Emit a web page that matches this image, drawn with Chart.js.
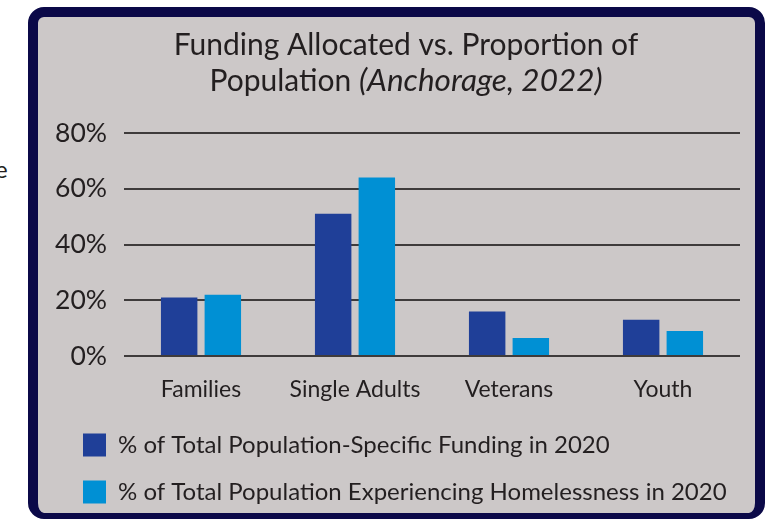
<!DOCTYPE html>
<html>
<head>
<meta charset="utf-8">
<script src="https://cdn.jsdelivr.net/npm/chart.js@4"></script>
<style>
  html, body { margin: 0; padding: 0; width: 772px; height: 519px; overflow: hidden; background: #ffffff; }
  #cut { position: absolute; left: -5px; top: 154px; font: 24px Lato, sans-serif; color: #231f20; }
  #panel {
    position: absolute; left: 28px; top: 7px; width: 737px; height: 512px;
    box-sizing: border-box; background: #ccc8c8;
    border: 10px solid #0b0948; border-bottom-width: 6px; border-radius: 16px;
  }
  #wrap { position: absolute; left: 40px; top: 17px; width: 732px; height: 502px; }
</style>
</head>
<body>
<span id="cut">e</span>
<div id="panel"></div>
<div id="wrap"><canvas id="myBarChart"></canvas></div>
<script>
var categories = ['Families', 'Single Adults', 'Veterans', 'Youth'];
var fundingShare = [21, 51, 16, 13];
var homelessShare = [22, 64, 6.5, 9];
var seriesNames = ['% of Total Population-Specific Funding in 2020', '% of Total Population Experiencing Homelessness in 2020'];
var yTicks = [0, 20, 40, 60, 80];
var titleLine1 = 'Funding Allocated vs. Proportion of';
var titleLine2 = ['Population ', '(Anchorage, 2022)'];

var FONT = 'Lato, sans-serif';
var INK = '#231f20';
var TSIZE = 30;
var LEGEND_SHIFT = 10;

// two line title, second part italic
var titlePlugin = {
  id: 'mixedTitle',
  afterLayout: function(chart) {
    // legend starts a bit right of the y axis labels
    chart.legend.left += LEGEND_SHIFT;
    chart.legend.right += LEGEND_SHIFT;
  },
  afterDraw: function(chart) {
    var c = chart.ctx;
    var cx = chart.width / 2;
    c.save();
    c.fillStyle = INK;
    c.textBaseline = 'alphabetic';
    c.textAlign = 'left';
    c.font = TSIZE + 'px ' + FONT;
    var w1 = c.measureText(titleLine1).width;
    c.fillText(titleLine1, cx - w1 / 2, 38);
    var wa = c.measureText(titleLine2[0]).width;
    c.font = 'italic ' + (TSIZE + 1.5) + 'px ' + FONT;
    var wb = c.measureText(titleLine2[1]).width;
    var x = cx - (wa + wb) / 2;
    c.font = TSIZE + 'px ' + FONT;
    c.fillText(titleLine2[0], x, 74);
    c.font = 'italic ' + (TSIZE + 1.5) + 'px ' + FONT;
    c.fillText(titleLine2[1], x + wa, 74);
    c.restore();
  }
};

var ctx = document.getElementById('myBarChart').getContext('2d');
var myChart = new Chart(ctx, {
  type: 'bar',
  data: {
    labels: categories,
    datasets: [{
      label: seriesNames[0],
      data: fundingShare,
      backgroundColor: '#1f3f98',
      borderWidth: 0
    }, {
      label: seriesNames[1],
      data: homelessShare,
      backgroundColor: '#0090d4',
      borderWidth: 0
    }]
  },
  options: {
    responsive: true,
    maintainAspectRatio: false,
    animation: false,
    categoryPercentage: 0.567,
    barPercentage: 0.835,
    layout: { padding: { left: 10, right: 32, top: 116, bottom: 5 } },
    scales: {
      x: {
        grid: { display: false },
        border: { display: false },
        ticks: { color: INK, font: { family: FONT, size: 23 }, padding: 12 },
        afterFit: function(scale) { scale.height = 54; }
      },
      y: {
        min: 0,
        max: 80,
        afterBuildTicks: function(scale) {
          scale.ticks = yTicks.map(function(v) { return { value: v }; });
        },
        grid: { color: '#3e3b3b', lineWidth: 2, drawTicks: false },
        border: { display: false },
        ticks: {
          color: INK,
          font: { family: FONT, size: 26.5 },
          padding: 17,
          callback: function(v) { return v + '%'; }
        },
        afterFit: function(scale) { scale.width = 74; }
      }
    },
    plugins: {
      legend: {
        position: 'bottom',
        align: 'start',
        labels: {
          color: INK,
          font: { family: FONT, size: 24 },
          boxWidth: 23,
          boxHeight: 23,
          padding: 23
        }
      },
      tooltip: { enabled: false }
    }
  },
  plugins: [titlePlugin]
});
</script>
</body>
</html>
